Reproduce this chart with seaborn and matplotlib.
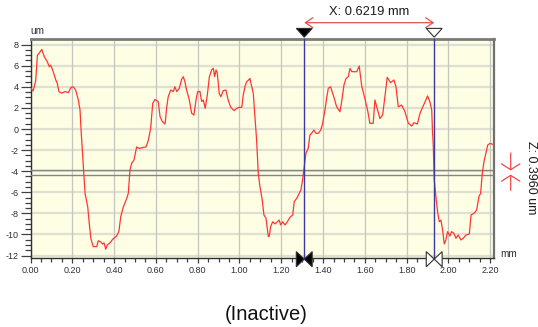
import numpy as np
import pandas as pd
import matplotlib
matplotlib.use("Agg")
import matplotlib.pyplot as plt
import matplotlib.transforms as mtransforms
from matplotlib.patches import Polygon
import seaborn as sns

# Surface profile: position along the scan (mm) and height (um)
x_mm = [0.002, 0.013, 0.025, 0.033, 0.042, 0.054, 0.066, 0.080, 0.090, 0.097,
        0.106, 0.121, 0.128, 0.136, 0.149, 0.165, 0.181, 0.194, 0.205, 0.216,
        0.229, 0.237, 0.242, 0.250, 0.256, 0.261, 0.274, 0.281, 0.289, 0.300,
        0.317, 0.324, 0.336, 0.345, 0.352, 0.360, 0.367, 0.380, 0.396, 0.412,
        0.423, 0.432, 0.444, 0.460, 0.468, 0.476, 0.484, 0.495, 0.508, 0.521,
        0.537, 0.553, 0.564, 0.575, 0.585, 0.596, 0.611, 0.620, 0.631, 0.644,
        0.652, 0.659, 0.671, 0.683, 0.691, 0.700, 0.712, 0.723, 0.731, 0.739,
        0.747, 0.760, 0.771, 0.782, 0.792, 0.800, 0.811, 0.819, 0.827, 0.836,
        0.846, 0.856, 0.867, 0.875, 0.881, 0.888, 0.894, 0.903, 0.911, 0.922,
        0.935, 0.946, 0.958, 0.974, 0.987, 0.999, 1.011, 1.018, 1.026, 1.034,
        1.044, 1.050, 1.055, 1.066, 1.074, 1.082, 1.090, 1.098, 1.109, 1.117,
        1.127, 1.138, 1.143, 1.149, 1.159, 1.170, 1.181, 1.190, 1.197, 1.207,
        1.218, 1.229, 1.242, 1.255, 1.262, 1.274, 1.286, 1.294, 1.302, 1.310,
        1.318, 1.329, 1.337, 1.345, 1.356, 1.366, 1.377, 1.389, 1.398, 1.409,
        1.417, 1.425, 1.436, 1.449, 1.465, 1.481, 1.489, 1.500, 1.510, 1.521,
        1.529, 1.537, 1.548, 1.561, 1.573, 1.585, 1.600, 1.613, 1.624, 1.640,
        1.648, 1.659, 1.672, 1.685, 1.696, 1.707, 1.723, 1.739, 1.749, 1.760,
        1.776, 1.792, 1.808, 1.824, 1.835, 1.851, 1.864, 1.879, 1.892, 1.900,
        1.911, 1.920, 1.924, 1.927, 1.932, 1.940, 1.948, 1.956, 1.964, 1.972,
        1.980, 1.988, 1.996, 2.007, 2.015, 2.026, 2.036, 2.047, 2.060, 2.071,
        2.084, 2.100, 2.108, 2.122, 2.135, 2.146, 2.154, 2.162, 2.170, 2.179,
        2.188, 2.199, 2.211]
z_um = [3.86, 3.60, 4.60, 7.00, 7.20, 7.55, 6.85, 6.40, 5.90, 6.05,
        5.60, 4.65, 4.33, 3.55, 3.40, 3.55, 3.45, 3.95, 4.00, 3.70,
        2.75, 1.80, -0.10, -2.60, -4.50, -6.10, -7.40, -8.90, -10.40, -11.15,
        -11.15, -10.60, -10.70, -10.90, -10.80, -11.40, -11.00, -10.80, -10.40, -10.15,
        -9.70, -8.30, -7.40, -6.60, -6.10, -3.90, -3.25, -2.95, -1.70, -1.85,
        -1.75, -1.70, -1.05, 0.07, 2.45, 2.80, 2.60, 1.17, 0.70, 0.47,
        2.10, 3.06, 3.70, 3.55, 4.00, 3.55, 3.86, 4.70, 4.96, 4.48,
        3.70, 2.75, 1.49, 1.33, 2.75, 3.55, 3.55, 2.60, 2.75, 1.96,
        3.20, 4.96, 5.60, 5.75, 4.96, 5.60, 5.28, 3.38, 3.06, 3.63,
        3.70, 2.75, 2.06, 1.74, 1.96, 2.06, 2.06, 3.20, 4.00, 4.48,
        4.65, 4.80, 4.33, 3.38, 1.17, -1.04, -4.20, -5.47, -6.73, -8.15,
        -8.46, -10.20, -10.15, -9.26, -8.79, -9.00, -8.79, -8.63, -9.10, -8.79,
        -9.10, -8.79, -8.37, -8.15, -6.89, -6.57, -6.10, -5.78, -4.83, -3.57,
        -2.30, -1.83, -0.57, -0.41, -0.10, -0.41, -0.41, -0.10, 0.54, 1.80,
        2.90, 3.86, 4.00, 3.20, 2.10, 1.64, 2.60, 4.17, 4.80, 4.96,
        5.75, 5.45, 5.43, 5.43, 5.97, 4.08, 2.90, 1.80, 0.54, 0.54,
        2.75, 1.96, 1.00, 1.33, 3.06, 4.90, 4.39, 4.65, 4.00, 2.10,
        2.27, 1.64, 0.54, 0.28, 0.60, 0.47, 1.49, 2.18, 2.75, 3.13,
        2.60, 1.80, -0.41, -1.36, -4.83, -6.40, -7.83, -8.79, -8.63, -9.57,
        -10.90, -10.50, -9.73, -10.15, -9.73, -9.89, -10.36, -10.05, -10.52, -10.36,
        -10.05, -9.95, -8.15, -8.00, -7.68, -6.40, -6.10, -4.20, -3.10, -2.30,
        -1.52, -1.36, -1.45]

# Measurement cursors
cursor_x = [1.3100, 1.9319]      # mm
cursor_z = [-3.930, -4.326]      # um

x_ticks = [0.0, 0.2, 0.4, 0.6, 0.8, 1.0, 1.2, 1.4, 1.6, 1.8, 2.0, 2.2]
y_ticks = [-12, -10, -8, -6, -4, -2, 0, 2, 4, 6, 8]

sns.set_theme(style="ticks")
plt.rcParams["font.family"] = ["Liberation Sans", "DejaVu Sans"]

W, H = 538, 327
fig = plt.figure(figsize=(W / 100, H / 100), dpi=100)
ax = fig.add_axes([30.5 / W, 1 - 258 / H, 463.5 / W, 219.5 / H])
ax.set_facecolor("#fefee4")

df = pd.DataFrame({"x": x_mm, "z": z_um})
sns.lineplot(data=df, x="x", y="z", sort=False, estimator=None,
             color="#ff3535", lw=0.9, ax=ax, zorder=4)

ax.set_xlim(0, 2.218)
ax.set_ylim(-12.23, 8.58)
ax.set_xticks(x_ticks)
ax.set_xticklabels([f"{v:.2f}" for v in x_ticks])
ax.set_yticks(y_ticks)
ax.set_yticklabels([str(v) for v in y_ticks])
ax.set_xticks(np.arange(0, 2.2001, 0.05), minor=True)
ax.set_yticks(np.arange(-12, 8.01, 0.5), minor=True)
ax.set_xlabel("")
ax.set_ylabel("")

ax.tick_params(axis="both", which="both", colors="#404040",
               labelcolor="#2e2e3c", labelsize=6.5, width=0.9)
ax.tick_params(axis="y", which="major", length=7, pad=1.5)
ax.tick_params(axis="y", which="minor", length=4)
ax.tick_params(axis="x", which="major", length=3.5, pad=2.5)
ax.tick_params(axis="x", which="minor", length=3)

# grid: pale horizontal bands, thin grey verticals
for v in y_ticks:
    ax.axhline(v, color="#e0e0d2", lw=1.6, zorder=1)
for v in x_ticks:
    ax.axvline(v, color="#c6c6c0", lw=0.9, zorder=1)

for side in ["left", "bottom"]:
    ax.spines[side].set_color("#303030")
    ax.spines[side].set_linewidth(1.0)
ax.spines["top"].set_visible(True)
ax.spines["right"].set_visible(True)
ax.spines["top"].set_color("#7a7a7a")
ax.spines["top"].set_linewidth(2.0)
ax.spines["right"].set_color("#707070")
ax.spines["right"].set_linewidth(1.6)

# cursor lines
for z in cursor_z:
    ax.axhline(z, color="#858585", lw=1.0, zorder=3)
for xc in cursor_x:
    ax.axvline(xc, color="#3a3a9e", lw=1.0, zorder=5)

trans = mtransforms.blended_transform_factory(ax.transData, ax.transAxes)
hw = 0.038
for i, xc in enumerate(cursor_x):
    face = "black" if i == 0 else "white"
    top = Polygon([(xc - hw, 1.046), (xc + hw, 1.046), (xc, 1.006)],
                  closed=True, transform=trans, clip_on=False,
                  facecolor=face, edgecolor="#303030", lw=0.8, zorder=6)
    ax.add_patch(top)
    for s in (-1, 1):
        tri = Polygon([(xc + s * hw, 0.029), (xc + s * hw, -0.040), (xc, -0.005)],
                      closed=True, transform=trans, clip_on=False,
                      facecolor=face, edgecolor="#303030", lw=0.8, zorder=6)
        ax.add_patch(tri)

# X distance annotation
dx = cursor_x[1] - cursor_x[0]
ax.annotate("", xy=(cursor_x[1], 1.072), xytext=(cursor_x[0], 1.072),
            xycoords=trans, textcoords=trans,
            arrowprops=dict(arrowstyle="<->,head_length=0.45,head_width=0.3",
                            color="#e05050", lw=0.9, shrinkA=0, shrinkB=0))
ax.text((cursor_x[0] + cursor_x[1]) / 2, 1.121, f"X: {dx:.4f} mm",
        transform=trans, ha="center", va="center", fontsize=9.3, color="#1a1a1a")

# Z distance annotation on the right
dz = cursor_z[0] - cursor_z[1]
trans_r = mtransforms.blended_transform_factory(ax.transAxes, ax.transData)
ax.annotate("", xy=(1.036, cursor_z[0]), xytext=(1.036, cursor_z[0] + 1.65),
            xycoords=trans_r, textcoords=trans_r,
            arrowprops=dict(arrowstyle="->,head_length=0.35,head_width=0.55",
                            color="#f04848", lw=0.9, shrinkA=0, shrinkB=0))
ax.annotate("", xy=(1.036, cursor_z[1]), xytext=(1.036, cursor_z[1] - 1.5),
            xycoords=trans_r, textcoords=trans_r,
            arrowprops=dict(arrowstyle="->,head_length=0.35,head_width=0.55",
                            color="#f04848", lw=0.9, shrinkA=0, shrinkB=0))
fig.text(525 / W, 1 - 178 / H, f"Z: {dz:.4f} um", rotation=270,
         ha="left", va="center", fontsize=9.0, color="#1a1a1a")

# unit labels
ax.text(0.0, 1.012, "um", transform=ax.transAxes, ha="left", va="bottom",
        fontsize=7.2, color="#2e2e3c")
fig.text(500 / W, 1 - 254 / H, "mm", ha="left", va="center",
         fontsize=7.2, color="#2e2e3c")

fig.text(266 / W, 1 - 315 / H, "(Inactive)", ha="center", va="center",
         fontsize=14.5, color="#111111")

fig.savefig("out.png", dpi=100)
